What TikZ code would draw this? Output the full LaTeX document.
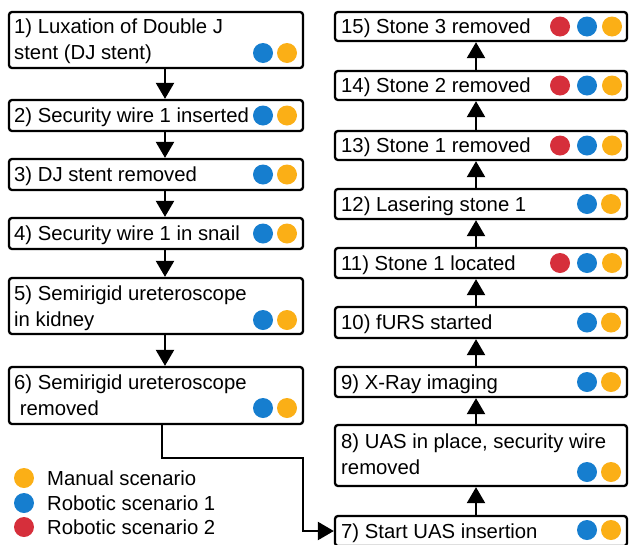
\documentclass[tikz,border=0pt]{standalone}
\usepackage{fontspec}
\setmainfont{Liberation Sans}
\usetikzlibrary{arrows.meta}
\definecolor{cred}{HTML}{D62F3B}
\definecolor{cblue}{HTML}{167ECF}
\definecolor{cora}{HTML}{FBAF16}
\newcommand{\twol}[2]{\begin{tabular}[t]{@{}l@{}}#1\\#2\end{tabular}}
\newcommand{\twodots}[3]{\node[dot,fill=cblue] (#1b) at (#2,#3) {};\node[dot,fill=cora] (#1o) at (#2+24,#3) {};}
\newcommand{\threedots}[3]{\node[dot,fill=cred] (#1r) at (#2,#3) {};\node[dot,fill=cblue] (#1b) at (#2+27,#3) {};\node[dot,fill=cora] (#1o) at (#2+52,#3) {};}
\begin{document}
\begin{tikzpicture}[x=1pt,y=-1pt,
 box/.style={draw=black, line width=2.3pt, rounded corners=3pt, inner sep=0pt, minimum width=294pt},
 rbox/.style={box, minimum width=292pt},
 txt/.style={anchor=base west, inner sep=0pt, font=\fontsize{20.3}{26}\selectfont},
 dot/.style={circle, inner sep=0pt, minimum size=20pt},
 arr/.style={line width=2.3pt, -{Triangle[length=16pt,width=18pt]}},
]
\useasboundingbox (0,0) rectangle (629,544);

% left column
\node[box, minimum height=56pt] (b1) at (156,40) {};
\node[txt] (t1) at (14,33) {\twol{1) Luxation of Double J}{stent (DJ stent)}};
\twodots{d1}{263}{53}
\node[box, minimum height=31pt] (b2) at (156,115.5) {};
\node[txt] (t2) at (14,122.5) {2) Security wire 1 inserted};
\twodots{d2}{263}{115.5}
\node[box, minimum height=31pt] (b3) at (156,174.5) {};
\node[txt] (t3) at (14,181.5) {3) DJ stent removed};
\twodots{d3}{263}{174.5}
\node[box, minimum height=31pt] (b4) at (156,233.5) {};
\node[txt] (t4) at (14,240.5) {4) Security wire 1 in snail};
\twodots{d4}{263}{233.5}
\node[box, minimum height=56pt] (b5) at (156,306) {};
\node[txt] (t5) at (14,300) {\twol{5) Semirigid ureteroscope}{in kidney}};
\twodots{d5}{263}{320}
\node[box, minimum height=57pt] (b6) at (156,395.5) {};
\node[txt] (t6) at (14,389) {\twol{6) Semirigid ureteroscope}{~removed}};
\twodots{d6}{263}{408}

% right column
\node[rbox, minimum height=30pt] (b7) at (481,531) {};
\node[txt] (t7) at (341,538) {7) Start UAS insertion};
\twodots{d7}{587}{530}
\node[rbox, minimum height=61pt] (b8) at (481,455.5) {};
\node[txt] (t8) at (341,448) {\twol{8) UAS in place, security wire}{removed}};
\twodots{d8}{587}{472}
\node[rbox, minimum height=30pt] (b9) at (481,382) {};
\node[txt] (t9) at (341,389) {9) X-Ray imaging};
\twodots{d9}{587}{382}
\node[rbox, minimum height=31pt] (b10) at (481,322.5) {};
\node[txt] (t10) at (341,329.5) {10) fURS started};
\twodots{d10}{587}{322.5}
\node[rbox, minimum height=30pt] (b11) at (481,263) {};
\node[txt] (t11) at (341,270) {11) Stone 1 located};
\threedots{d11}{560}{263}
\node[rbox, minimum height=30pt] (b12) at (481,204) {};
\node[txt] (t12) at (341,211) {12) Lasering stone 1};
\twodots{d12}{587}{204}
\node[rbox, minimum height=29pt] (b13) at (481,145.5) {};
\node[txt] (t13) at (341,152.5) {13) Stone 1 removed};
\threedots{d13}{560}{145.5}
\node[rbox, minimum height=29pt] (b14) at (481,85.5) {};
\node[txt] (t14) at (341,92.5) {14) Stone 2 removed};
\threedots{d14}{560}{85.5}
\node[rbox, minimum height=29pt] (b15) at (481,26.5) {};
\node[txt] (t15) at (341,33.5) {15) Stone 3 removed};
\threedots{d15}{560}{26.5}

% legend
\node[dot,fill=cora] (l1) at (24,478) {};
\node[txt] (lt1) at (47,485) {Manual scenario};
\node[dot,fill=cblue] (l2) at (24,503) {};
\node[txt] (lt2) at (47,510) {Robotic scenario 1};
\node[dot,fill=cred] (l3) at (24,527) {};
\node[txt] (lt3) at (47,534) {Robotic scenario 2};

% connectors left
\draw[arr] ([xshift=9pt]b1.south) -- ([xshift=9pt]b2.north);
\draw[arr] ([xshift=9pt]b2.south) -- ([xshift=9pt]b3.north);
\draw[arr] ([xshift=9pt]b3.south) -- ([xshift=9pt]b4.north);
\draw[arr] ([xshift=9pt]b4.south) -- ([xshift=9pt]b5.north);
\draw[arr] ([xshift=9pt]b5.south) -- ([xshift=9pt]b6.north);
\coordinate (bend) at (303,458);
\draw[arr] ([xshift=6pt]b6.south) |- (bend) |- (b7.west);
% connectors right
\draw[arr] ([xshift=-5pt]b7.north) -- ([xshift=-5pt]b8.south);
\draw[arr] ([xshift=-5pt]b8.north) -- ([xshift=-5pt]b9.south);
\draw[arr] ([xshift=-5pt]b9.north) -- ([xshift=-5pt]b10.south);
\draw[arr] ([xshift=-5pt]b10.north) -- ([xshift=-5pt]b11.south);
\draw[arr] ([xshift=-5pt]b11.north) -- ([xshift=-5pt]b12.south);
\draw[arr] ([xshift=-5pt]b12.north) -- ([xshift=-5pt]b13.south);
\draw[arr] ([xshift=-5pt]b13.north) -- ([xshift=-5pt]b14.south);
\draw[arr] ([xshift=-5pt]b14.north) -- ([xshift=-5pt]b15.south);
\end{tikzpicture}
\end{document}
